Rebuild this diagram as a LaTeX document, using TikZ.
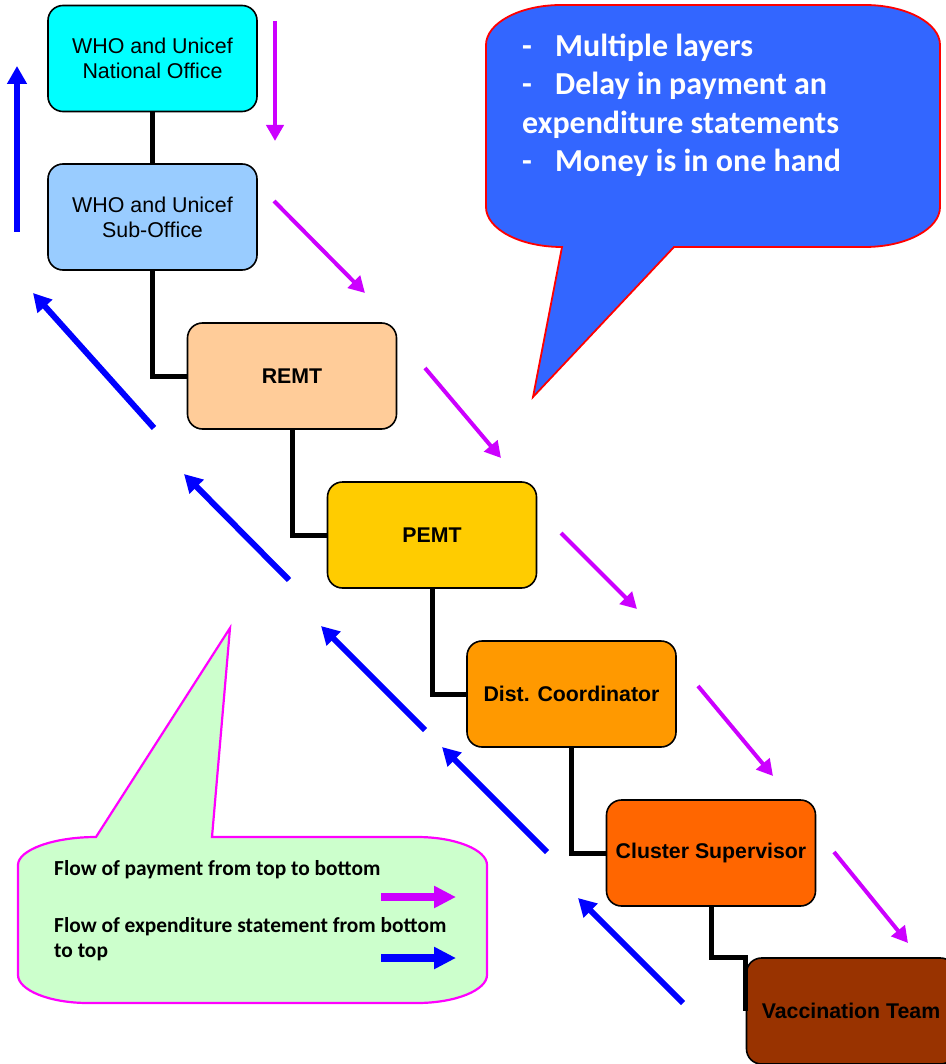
\documentclass[tikz,border=0pt]{standalone}
\usepackage{fontspec}
\setmainfont{Liberation Sans}
\newfontfamily\calibri{Carlito}
\usetikzlibrary{arrows.meta}

\definecolor{natcyan}{HTML}{00FFFF}
\definecolor{subblue}{HTML}{99CCFF}
\definecolor{remtpeach}{HTML}{FFCC99}
\definecolor{pemtgold}{HTML}{FFCC00}
\definecolor{distorange}{HTML}{FF9900}
\definecolor{clusorange}{HTML}{FF6600}
\definecolor{vaccbrown}{HTML}{993300}
\definecolor{payviolet}{HTML}{CC00FF}
\definecolor{statblue}{HTML}{0000FF}
\definecolor{notefill}{HTML}{3366FF}
\definecolor{keyfill}{HTML}{CCFFCC}
\definecolor{keyline}{HTML}{FF00FF}

\tikzstyle{office} = [draw, line width=1.6pt, rounded corners=15pt, minimum width=209pt, minimum height=106pt, inner sep=0pt, align=center, font=\fontsize{21.4}{25}\selectfont]
\tikzstyle{chain} = [draw, line width=5pt]
\tikzstyle{pay} = [draw, line width=4pt, color=payviolet, -{Triangle[length=16pt,width=17pt]}]
\tikzstyle{stat} = [draw, line width=6pt, color=statblue, -{Triangle[length=18pt,width=19pt]}]
\tikzstyle{keyarrow} = [draw, line width=8pt, -{Triangle[length=22pt,width=21pt]}]

\begin{document}
\begin{tikzpicture}[x=1pt,y=-1pt]
		\useasboundingbox (0,0) rectangle (945,1064);
		
		%callouts
		\draw[line width=1.8pt, draw=red, fill=notefill] (486,45) .. controls (486,23) and (520,5) .. (561,5) -- (865,5) .. controls (906,5) and (940,23) .. (940,45) -- (940,207) .. controls (940,229) and (906,247) .. (865,247) -- (674,247) -- (533,397) -- (562,247) .. controls (520,247) and (486,229) .. (486,207) -- cycle;
		\draw[line width=2.2pt, draw=keyline, fill=keyfill] (18,865) .. controls (18,850) and (53,837) .. (96,837) -- (230,628) -- (212,837) -- (417,837) .. controls (456,837) and (487,850) .. (487,865) -- (487,975) .. controls (487,990) and (456,1003) .. (417,1003) -- (88,1003) .. controls (49,1003) and (18,990) .. (18,975) -- cycle;
		\node[anchor=north west, align=left, inner sep=0pt, text=white, font=\calibri\bfseries\fontsize{32}{38.3}\selectfont] (issues) at (522,34) {\makebox[33pt][l]{-}Multiple layers\\\makebox[33pt][l]{-}Delay in payment an\\expenditure statements\\\makebox[33pt][l]{-}Money is in one hand};
		\node[anchor=north west, align=left, inner sep=0pt, font=\calibri\bfseries\fontsize{21.4}{25}\selectfont] (paytext) at (54,860) {Flow of payment from top to bottom};
		\node[anchor=north west, align=left, inner sep=0pt, font=\calibri\bfseries\fontsize{21.4}{25}\selectfont] (stattext) at (54,917) {Flow of expenditure statement from bottom\\to top};
		\draw[keyarrow, color=payviolet] (381,897) -- (456,897);
		\draw[keyarrow, color=statblue] (381,958) -- (456,958);
		
		%offices
		\node[office, fill=natcyan] (nat) at (152.5,58.5) {WHO and Unicef\\National Office};
		\node[office, fill=subblue] (sub) at (152.5,217) {WHO and Unicef\\Sub-Office};
		\node[office, fill=remtpeach, font=\fontsize{21.3}{25}\selectfont\bfseries] (remt) at (292,376) {REMT};
		\node[office, fill=pemtgold, font=\fontsize{21.3}{25}\selectfont\bfseries] (pemt) at (432,535) {PEMT};
		\node[office, fill=distorange, font=\fontsize{21.3}{25}\selectfont\bfseries] (dist) at (571.5,694) {Dist. Coordinator};
		\node[office, fill=clusorange, font=\fontsize{21.3}{25}\selectfont\bfseries] (clus) at (711,853) {Cluster Supervisor};
		\node[office, fill=vaccbrown, font=\fontsize{21.3}{25}\selectfont\bfseries] (vacc) at (851,1011) {Vaccination Team};
		
		%links
		\draw[chain] (nat.south) -- (sub.north);
		\draw[chain] (sub.south) |- (remt.west);
		\draw[chain] (remt.south) |- (pemt.west);
		\draw[chain] (pemt.south) |- (dist.west);
		\draw[chain] (dist.south) |- (clus.west);
		\draw[chain] (clus.south) |- (vacc.north west) -- (vacc.west);
		
		%payment arrows
		\draw[pay] (275,21) -- (275,141);
		\draw[pay] (274,201) -- (365,293);
		\draw[pay] (425,368) -- (501,458);
		\draw[pay] (561,533) -- (637,609);
		\draw[pay] (698,686) -- (773,776);
		\draw[pay] (834,852) -- (908,943);
		%statement arrows
		\draw[stat] (17,232) -- (17,66);
		\draw[stat] (154,428) -- (33,293);
		\draw[stat] (289,580) -- (184,474);
		\draw[stat] (425,730) -- (321,626);
		\draw[stat] (547,852) -- (442,747);
		\draw[stat] (683,1003) -- (578,898);
\end{tikzpicture}
\end{document}
